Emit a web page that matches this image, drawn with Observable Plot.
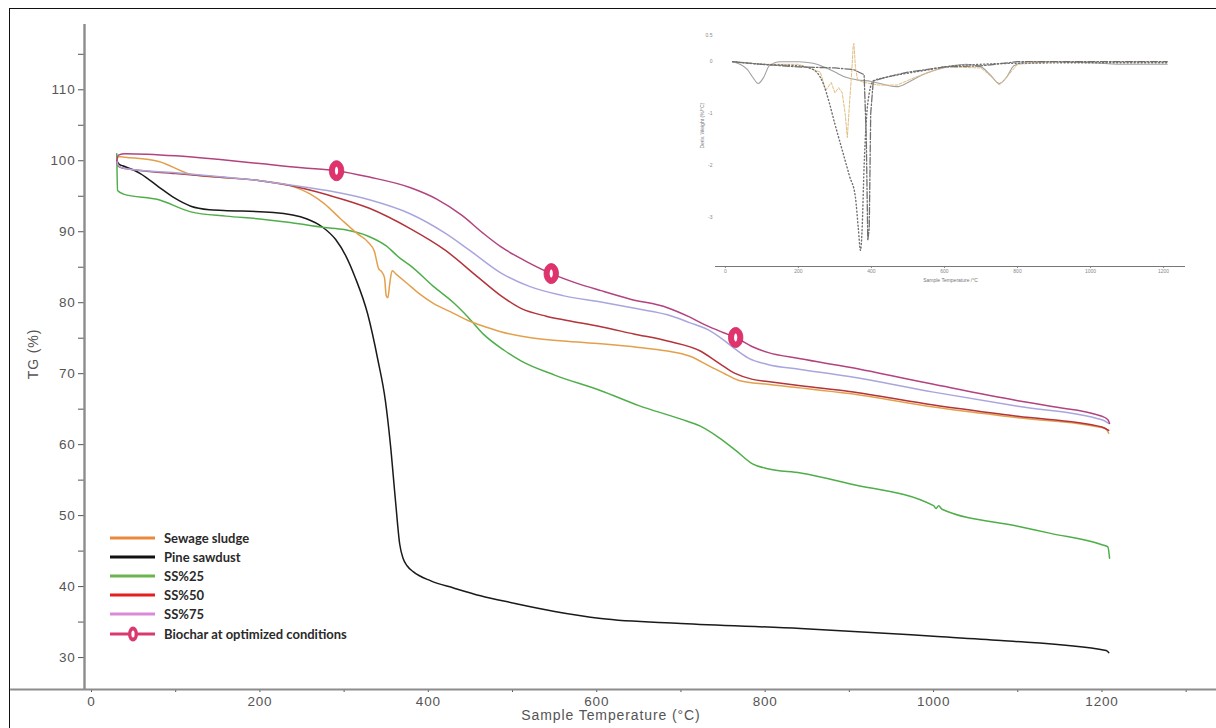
<!DOCTYPE html>
<html>
<head>
<meta charset="utf-8">
<script src="https://cdn.jsdelivr.net/npm/d3@7"></script>
<script src="https://cdn.jsdelivr.net/npm/@observablehq/plot@0.6"></script>
<style>
html,body{margin:0;padding:0;background:#fff;}
#wrap{position:relative;width:1216px;height:728px;overflow:hidden;background:#fff;}
#frame{position:absolute;left:9px;top:8px;width:1400px;height:900px;border-left:1.5px solid #111;border-top:1.5px solid #111;pointer-events:none;}
#main{position:absolute;left:0;top:0;}
#inset{position:absolute;left:700px;top:25px;}
#main svg text{letter-spacing:0.8px;}
.title{position:absolute;font-family:"Liberation Sans",Arial,sans-serif;font-size:14px;color:#555;white-space:nowrap;letter-spacing:0.9px;}
#ytitle{left:33px;top:354px;transform:translate(-50%,-50%) rotate(-90deg);}
#xtitle{left:611px;top:715px;transform:translate(-50%,-50%);}
#legend{position:absolute;left:110px;top:528px;font:bold 13px Lato,"Open Sans",sans-serif;color:#2a2a2a;}
#legend .row{display:flex;align-items:center;height:19.2px;}
#legend svg{margin-right:9px;}
</style>
</head>
<body>
<div id="wrap">
  <div id="main"></div>
  <div id="inset"></div>
  <div id="legend"></div>
  <div class="title" id="ytitle">TG (%)</div>
  <div class="title" id="xtitle">Sample Temperature (°C)</div>
  <div id="frame"></div>
</div>
<script>
// ---------- main TG data ----------
const seriesNames = ["Pine sawdust", "SS%25", "Sewage sludge", "SS%50", "SS%75", "Biochar at optimized conditions"];

const pineT = [30, 33, 37, 58, 80, 98, 118, 140, 157, 216, 256, 275, 290, 302, 313, 328, 340, 349, 355, 361, 366, 370, 375, 382, 403, 430, 462, 500, 550, 605, 700, 842, 1000, 1080, 1205, 1208];
const pineV = [100, 99.5, 99.3, 98.2, 96.3, 94.8, 93.6, 93.1, 93.0, 92.7, 91.8, 90.6, 88.9, 86.6, 83.6, 78.4, 72.0, 66.2, 60.0, 52.1, 46.0, 44.0, 42.9, 42.1, 40.8, 39.8, 38.7, 37.7, 36.5, 35.5, 34.8, 34.1, 33.0, 32.4, 31.0, 30.7];

const ss25T = [30, 31, 38, 80, 118, 160, 200, 236, 276, 300, 328, 350, 367, 379, 406, 430, 447, 466, 490, 510, 550, 605, 650, 700, 723, 745, 765, 785, 803, 842, 900, 1000, 1003, 1006, 1010, 1100, 1139, 1200, 1207, 1209];
const ss25V = [101, 95.8, 95.3, 94.5, 92.8, 92.2, 91.8, 91.3, 90.6, 90.3, 89.4, 88.0, 86.2, 85.2, 82.3, 80.0, 78.0, 75.5, 73.3, 71.8, 69.8, 67.6, 65.5, 63.6, 62.6, 61.0, 59.2, 57.3, 56.6, 56.0, 54.5, 51.4, 51.0, 51.4, 50.9, 48.5, 47.5, 45.9, 45.6, 44.0];

const sludgeT = [30, 32, 40, 80, 118, 160, 200, 236, 260, 276, 296, 316, 328, 336, 341, 345, 348, 350, 352, 354, 357, 362, 375, 390, 406, 430, 447, 470, 486, 520, 560, 605, 650, 684, 710, 735, 755, 770, 803, 842, 900, 1000, 1100, 1200, 1205, 1208];
const sludgeV = [100, 100.6, 100.5, 99.9, 98.1, 97.6, 97.2, 96.5, 95.3, 94.0, 91.8, 89.7, 88.6, 87.2, 84.8, 84.3, 83.5, 81.0, 80.7, 82.5, 84.5, 84.0, 82.7, 81.2, 79.9, 78.5, 77.5, 76.5, 75.9, 75.1, 74.6, 74.2, 73.7, 73.2, 72.5, 71.0, 69.8, 69.0, 68.5, 68.0, 67.2, 65.3, 63.8, 62.4, 62.2, 61.6];

const ss50T = [30, 32, 40, 100, 150, 200, 236, 280, 330, 379, 420, 460, 486, 510, 540, 565, 605, 644, 684, 723, 745, 765, 785, 803, 842, 900, 1000, 1100, 1200, 1208];
const ss50V = [100, 99.2, 98.9, 98.2, 97.7, 97.2, 96.5, 95.2, 93.3, 90.4, 87.4, 83.5, 81.0, 79.2, 78.1, 77.5, 76.6, 75.6, 74.6, 73.2, 71.5, 70.0, 69.2, 68.9, 68.3, 67.5, 65.6, 64.0, 62.5, 62.0];

const ss75T = [30, 32, 40, 100, 150, 200, 236, 280, 330, 379, 420, 450, 486, 520, 560, 605, 650, 684, 710, 732, 750, 763, 780, 803, 842, 900, 1000, 1100, 1200, 1208];
const ss75V = [100, 99.3, 98.9, 98.3, 97.8, 97.2, 96.6, 95.8, 94.5, 92.5, 89.8, 87.3, 84.2, 82.3, 81.0, 80.1, 79.1, 78.3, 77.2, 76.2, 74.8, 73.6, 72.2, 71.3, 70.6, 69.6, 67.4, 65.4, 63.5, 63.0];

const biocharT = [30, 32, 40, 100, 150, 200, 250, 291, 330, 379, 410, 440, 465, 486, 515, 546, 575, 605, 640, 684, 710, 730, 750, 765, 785, 803, 842, 900, 1000, 1100, 1139, 1200, 1207, 1209];
const biocharV = [100, 100.8, 101.0, 100.7, 100.2, 99.6, 99.0, 98.6, 97.7, 96.2, 94.6, 92.3, 89.8, 87.9, 85.9, 84.1, 82.8, 81.7, 80.5, 79.3, 78.0, 76.8, 75.8, 75.1, 73.8, 73.0, 72.1, 70.9, 68.5, 66.2, 65.4, 64.0, 63.5, 63.0];

const markerT = [291, 546, 765];
const markerV = [98.6, 84.1, 75.1];

const curveColors = ["#1a1a1a", "#4fae4a", "#e3a04c", "#b3343a", "#a9a6de", "#b2437f"];
const legendNames = ["Sewage sludge", "Pine sawdust", "SS%25", "SS%50", "SS%75", "Biochar at optimized conditions"];
const legendColors = ["#e8893e", "#111111", "#6db34f", "#e3201e", "#d98ad9", "#d93a6e"];

const xTicks = [0, 100, 200, 300, 400, 500, 600, 700, 800, 900, 1000, 1100, 1200, 1300];
const yTicks = [30, 35, 40, 45, 50, 55, 60, 65, 70, 75, 80, 85, 90, 95, 100, 105, 110, 115];

// ---------- inset DTG data ----------
const insetXTicks = [0, 200, 400, 600, 800, 1000, 1200];
const insetYTicks = [0.5, 0, -1, -2, -3];
const dtgSolidT = [20, 40, 60, 75, 90, 105, 120, 150, 200, 240, 270, 300, 330, 360, 400, 440, 470, 500, 540, 580, 620, 660, 700, 725, 750, 770, 790, 830, 900, 1000, 1100, 1210];
const dtgSolidV = [0, -0.05, -0.15, -0.3, -0.42, -0.3, -0.08, 0, 0, -0.03, -0.1, -0.2, -0.3, -0.35, -0.38, -0.45, -0.48, -0.4, -0.25, -0.15, -0.08, -0.05, -0.1, -0.25, -0.42, -0.3, -0.08, 0, 0, -0.02, -0.05, -0.05];
const dtgDotT = [20, 100, 200, 240, 260, 268, 285, 300, 320, 340, 356, 364, 370, 374, 380, 390, 405, 440, 500, 560, 600, 700, 800, 1000, 1210];
const dtgDotV = [0, -0.05, -0.08, -0.15, -0.3, -0.42, -0.8, -1.2, -1.7, -2.2, -2.6, -3.2, -3.63, -3.3, -2.0, -0.8, -0.37, -0.3, -0.22, -0.15, -0.1, -0.05, -0.03, -0.02, -0.02];
const dtgDashDotT = [20, 100, 200, 300, 350, 380, 386, 390, 394, 398, 405, 440, 500, 600, 700, 800, 1000, 1210];
const dtgDashDotV = [0, -0.05, -0.1, -0.12, -0.15, -0.25, -1.5, -3.44, -3.2, -1.0, -0.37, -0.3, -0.2, -0.1, -0.08, 0, 0, 0];
const dtgSludgeT = [20, 100, 200, 260, 275, 290, 300, 310, 320, 328, 334, 340, 346, 350, 352, 356, 362, 380, 420, 470, 520, 600, 700, 730, 750, 770, 800, 900, 1000, 1210];
const dtgSludgeV = [0, -0.05, -0.05, -0.2, -0.55, -0.4, -0.6, -0.5, -0.6, -1.0, -1.46, -0.8, -0.2, 0.3, 0.35, -0.1, -0.35, -0.4, -0.45, -0.45, -0.3, -0.1, -0.12, -0.3, -0.45, -0.3, -0.05, 0, 0, 0];

// ---------- build ----------
const rows = (name, T, V) => T.map((t, i) => ({series: name, t, v: V[i]}));
const tgRows = [
  ...rows(seriesNames[0], pineT, pineV),
  ...rows(seriesNames[1], ss25T, ss25V),
  ...rows(seriesNames[2], sludgeT, sludgeV),
  ...rows(seriesNames[3], ss50T, ss50V),
  ...rows(seriesNames[4], ss75T, ss75V),
  ...rows(seriesNames[5], biocharT, biocharV)
];
const markerRows = markerT.map((t, i) => ({t, v: markerV[i]}));

function ellipse(ax, ay) {
  return {draw(ctx, size) {
    const r = Math.sqrt(size / Math.PI), rx = r * ax, ry = r * ay, k = 0.5523;
    ctx.moveTo(rx, 0);
    ctx.bezierCurveTo(rx, ry * k, rx * k, ry, 0, ry);
    ctx.bezierCurveTo(-rx * k, ry, -rx, ry * k, -rx, 0);
    ctx.bezierCurveTo(-rx, -ry * k, -rx * k, -ry, 0, -ry);
    ctx.bezierCurveTo(rx * k, -ry, rx, -ry * k, rx, 0);
    ctx.closePath();
  }};
}

const xDom = [-8.3, 1336], yDom = [25.5, 119.2];
const main = Plot.plot({
  width: 1216, height: 728,
  marginLeft: 84, marginRight: 0, marginTop: 24, marginBottom: 39,
  style: {background: "transparent", color: "#555", fontFamily: "'Liberation Sans', Arial, sans-serif", fontSize: "13.5px", overflow: "visible"},
  x: {domain: xDom, ticks: xTicks, tickSize: 3, tickPadding: 4, tickFormat: d => d % 200 === 0 ? String(d) : "", label: null},
  y: {domain: yDom, ticks: yTicks, tickSize: 6, tickPadding: 3, tickFormat: d => d % 10 === 0 ? String(d) : "", label: null},
  color: {domain: seriesNames, range: curveColors},
  marks: [
    Plot.ruleX([xDom[0]], {y1: yDom[0], y2: yDom[1], stroke: "#8c8c8c", strokeWidth: 2.4}),
    Plot.ruleY([yDom[0]], {x1: -96, x2: xDom[1], stroke: "#8c8c8c", strokeWidth: 2.2}),
    Plot.line(tgRows, {x: "t", y: "v", z: "series", stroke: "series", strokeWidth: 1.5, curve: "monotone-x"}),
    Plot.dot(markerRows, {x: "t", y: "v", r: 10, symbol: ellipse(0.72, 1), fill: "#e0336d", stroke: "#c92a5f", strokeWidth: 0.8}),
    Plot.dot(markerRows, {x: "t", y: "v", r: 4, symbol: ellipse(0.4, 1), fill: "#fff"})
  ]
});
document.getElementById("main").appendChild(main);

const insetRows = [
  ...rows("solid", dtgSolidT, dtgSolidV),
  ...rows("dot", dtgDotT, dtgDotV),
  ...rows("dashdot", dtgDashDotT, dtgDashDotV),
  ...rows("sludge", dtgSludgeT, dtgSludgeV)
];
const iDomX = [-27, 1260], iDomY = [-3.94, 0.6];
const inset = Plot.plot({
  width: 495, height: 262,
  marginLeft: 15, marginRight: 10, marginTop: 5, marginBottom: 21,
  style: {background: "transparent", color: "#888", fontFamily: "'Liberation Sans', Arial, sans-serif", fontSize: "5px", overflow: "visible"},
  x: {domain: iDomX, ticks: insetXTicks, tickSize: 2, tickPadding: 1, tickFormat: d => String(d), label: null},
  y: {domain: iDomY, ticks: insetYTicks, tickSize: 0, tickPadding: 3, tickFormat: d => String(d), label: null},
  marks: [
    Plot.ruleY([iDomY[0]], {stroke: "#777", strokeWidth: 1}),
    Plot.line(insetRows.filter(d => d.series === "solid"), {x: "t", y: "v", stroke: "#a0a0a0", strokeWidth: 1.1, curve: "monotone-x"}),
    Plot.line(insetRows.filter(d => d.series === "sludge"), {x: "t", y: "v", stroke: "#e2bd82", strokeWidth: 1, strokeDasharray: "3,1.5"}),
    Plot.line(insetRows.filter(d => d.series === "dot"), {x: "t", y: "v", stroke: "#707070", strokeWidth: 1.4, strokeDasharray: "1,2.5", curve: "monotone-x"}),
    Plot.line(insetRows.filter(d => d.series === "dashdot"), {x: "t", y: "v", stroke: "#707070", strokeWidth: 1.3, strokeDasharray: "7,2,1.5,2"}),
    Plot.text(["Sample Temperature /°C"], {frameAnchor: "bottom", dy: 15, fontSize: 5, fill: "#777"}),
    Plot.text(["Deriv. Weight (%/°C)"], {frameAnchor: "left", dx: -13, rotate: -90, fontSize: 5, fill: "#777"})
  ]
});
document.getElementById("inset").appendChild(inset);

// legend
const leg = document.getElementById("legend");
legendNames.forEach((name, i) => {
  const row = document.createElement("div");
  row.className = "row";
  const sw = d3.create("svg").attr("width", 45).attr("height", 16);
  sw.append("line").attr("x1", 0).attr("x2", 45).attr("y1", 8).attr("y2", 8)
    .attr("stroke", legendColors[i]).attr("stroke-width", 3);
  if (i === legendNames.length - 1) {
    sw.append("ellipse").attr("cx", 23).attr("cy", 8).attr("rx", 5).attr("ry", 7.5).attr("fill", legendColors[i]);
    sw.append("ellipse").attr("cx", 23).attr("cy", 8).attr("rx", 1.6).attr("ry", 3.5).attr("fill", "#fff");
  }
  row.appendChild(sw.node());
  const lab = document.createElement("span");
  lab.textContent = name;
  row.appendChild(lab);
  leg.appendChild(row);
});
</script>
</body>
</html>
